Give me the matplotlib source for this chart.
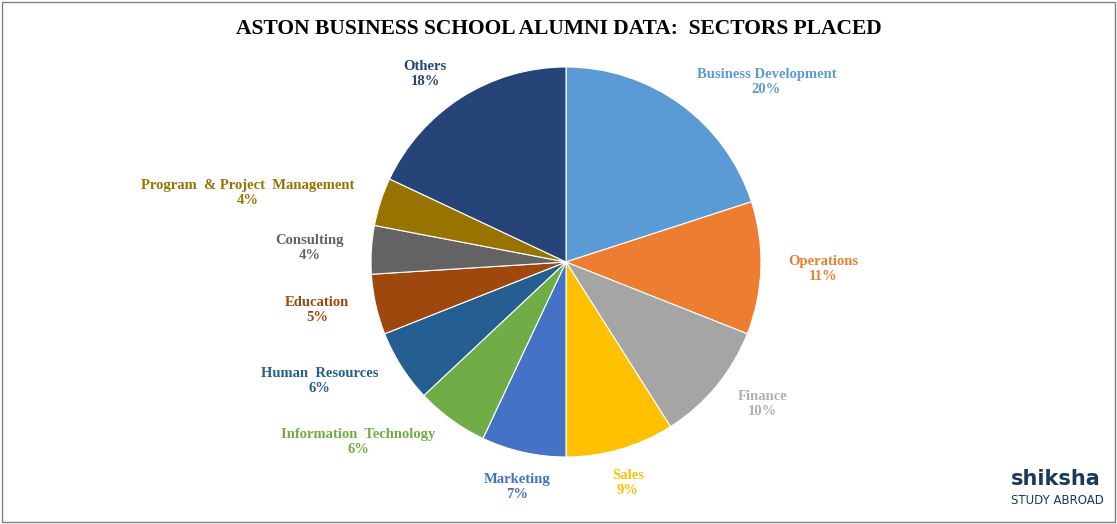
import matplotlib
matplotlib.use("Agg")
import matplotlib.pyplot as plt
import numpy as np

categories = ["Business Development", "Operations", "Finance", "Sales", "Marketing",
              "Information  Technology", "Human  Resources", "Education", "Consulting",
              "Program  & Project  Management", "Others"]
values = [20, 11, 10, 9, 7, 6, 6, 5, 4, 4, 18]
colors = ["#5B9BD5", "#ED7D31", "#A5A5A5", "#FFC000", "#4472C4", "#70AD47",
          "#255E91", "#9E480E", "#636363", "#997300", "#264478"]

fig = plt.figure(figsize=(11.17, 5.24), dpi=100)
fig.patches.append(plt.Rectangle((0.002, 0.003), 0.996, 0.994, transform=fig.transFigure,
                                 fill=False, edgecolor="#808080", lw=1))
R = 195 / 524
ax = fig.add_axes([566 / 1117 - R * 524 / 1117, 262 / 524 - R, 2 * R * 524 / 1117, 2 * R])
wedges, _ = ax.pie(values, colors=colors, startangle=90, counterclock=False,
                   wedgeprops=dict(edgecolor="white", linewidth=0.8))
ax.set_xlim(-1, 1)
ax.set_ylim(-1, 1)
ax.set_aspect("equal")
ax.axis("off")
for w, c, v, col in zip(wedges, categories, values, colors):
    ang = np.deg2rad((w.theta1 + w.theta2) / 2)
    x, y = np.cos(ang), np.sin(ang)
    r = 1.14
    ha = "left" if x > 0.4 else ("right" if x < -0.4 else "center")
    yy = r * y + (-0.04 if abs(x) < 0.4 else 0)
    tcol = "#B0B0B0" if c == "Finance" else col
    ax.text(r * x, yy, f"{c}\n{v}%", ha=ha, va="center", color=tcol, multialignment="center",
            fontsize=10.5, fontweight="bold", family="Liberation Serif", linespacing=1.2,
            clip_on=False)
fig.text(0.50, 0.945, "ASTON BUSINESS SCHOOL ALUMNI DATA:  SECTORS PLACED", ha="center",
         va="center", fontsize=15.5, fontweight="bold", family="Liberation Serif")
fig.text(0.905, 0.085, "shiksha", fontsize=15, fontweight="bold", color="#1a3a5c",
         family="DejaVu Sans", va="center")
fig.text(0.905, 0.045, "STUDY ABROAD", fontsize=8.5, color="#1a3a5c",
         family="DejaVu Sans", va="center")
fig.savefig("out.png", dpi=100)
